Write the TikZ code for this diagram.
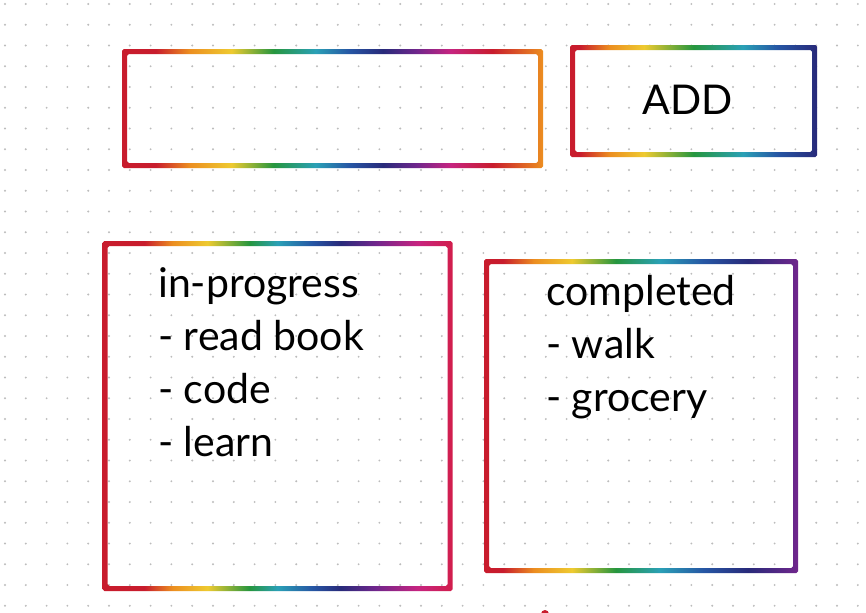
\documentclass[tikz,border=0pt]{standalone}
\usepackage{fontspec}
\setmainfont{Lato}
\usetikzlibrary{positioning}

\definecolor{rbred}{RGB}{200,28,45}
\definecolor{rborange}{RGB}{236,142,32}
\definecolor{rbyellow}{RGB}{238,202,48}
\definecolor{rbgreen}{RGB}{38,150,62}
\definecolor{rbteal}{RGB}{42,160,182}
\definecolor{rbblue}{RGB}{38,86,164}
\definecolor{rbnavy}{RGB}{40,42,122}
\definecolor{rbpurple}{RGB}{112,38,140}
\definecolor{rbmagenta}{RGB}{198,36,128}
\definecolor{rbcrimson}{RGB}{210,30,75}
\definecolor{dotgray}{RGB}{188,188,188}

% rainbow shadings (useful part between 25bp and 75bp)
\pgfdeclarehorizontalshading{rainbowentry}{100bp}{color(0bp)=(rbred); color(29bp)=(rbred);
  color(33bp)=(rborange); color(38bp)=(rbyellow); color(43bp)=(rbgreen); color(48bp)=(rbteal);
  color(52bp)=(rbblue); color(56bp)=(rbnavy); color(60bp)=(rbpurple); color(64bp)=(rbmagenta);
  color(69bp)=(rbred); color(75bp)=(rborange); color(100bp)=(rborange)}
\pgfdeclarehorizontalshading{rainbowadd}{100bp}{color(0bp)=(rbred); color(27bp)=(rbred);
  color(33bp)=(rborange); color(40bp)=(rbyellow); color(50bp)=(rbgreen); color(60bp)=(rbteal);
  color(67bp)=(rbblue); color(75bp)=(rbnavy); color(100bp)=(rbnavy)}
\pgfdeclarehorizontalshading{rainbowdoing}{100bp}{color(0bp)=(rbred); color(31bp)=(rbred);
  color(35bp)=(rborange); color(40bp)=(rbyellow); color(46bp)=(rbgreen); color(50bp)=(rbteal);
  color(55bp)=(rbblue); color(59bp)=(rbnavy); color(64bp)=(rbpurple); color(70bp)=(rbmagenta);
  color(75bp)=(rbcrimson); color(100bp)=(rbcrimson)}
\pgfdeclarehorizontalshading{rainbowdone}{100bp}{color(0bp)=(rbred); color(28bp)=(rbred);
  color(33bp)=(rborange); color(39bp)=(rbyellow); color(46bp)=(rbgreen); color(53bp)=(rbteal);
  color(60bp)=(rbblue); color(67bp)=(rbnavy); color(75bp)=(rbpurple); color(100bp)=(rbpurple)}

\newcommand{\rainbowframe}[2]{%
  \shade[shading=#2, even odd rule, rounded corners=1.5]
    (#1.north west) rectangle (#1.south east)
    ([shift={(5,5)}]#1.north west) rectangle ([shift={(-5,-5)}]#1.south east);}

\tikzset{
  boxarea/.style={inner sep=0pt, outer sep=0pt},
  listtext/.style={inner sep=0pt, align=left, font=\fontsize{35}{45}\selectfont},
  labeltext/.style={inner sep=0pt, font=\fontsize{35}{45}\selectfont}
}

\begin{document}
\begin{tikzpicture}[x=0.03cm, y=-0.03cm]
    \useasboundingbox[fill=white] (0,0) rectangle (866,612);
    % dotted paper
    \foreach \i in {0,...,41}
      \foreach \j in {0,...,29}
        \fill[dotgray] (5+20.8*\i, 4+20.75*\j) circle (0.9pt);

    \node[boxarea, minimum width=421*0.03cm, minimum height=119*0.03cm] (entry) at (332.5,108.5) {};
    \node[boxarea, minimum width=247*0.03cm, minimum height=112*0.03cm] (add) at (693.5,101) {};
    \node[boxarea, minimum width=350*0.03cm, minimum height=350*0.03cm] (doing) at (277.5,416) {};
    \node[boxarea, minimum width=314*0.03cm, minimum height=314*0.03cm] (done) at (641,416) {};

    \rainbowframe{entry}{rainbowentry}
    \rainbowframe{add}{rainbowadd}
    \rainbowframe{doing}{rainbowdoing}
    \rainbowframe{done}{rainbowdone}

    \node[labeltext, anchor=base] (addlabel) at (687.5,114) {ADD};
    % base anchor sits on the last line
    \node[listtext, anchor=base west] (doinglist) at (158,456) {in-progress\\- read book\\- code\\- learn};
    \node[listtext, anchor=base west] (donelist) at (546,411) {completed\\- walk\\- grocery};

    % tip of a shape below the page
    \fill[rbred] (545,614) circle (4);
  \end{tikzpicture}
\end{document}
